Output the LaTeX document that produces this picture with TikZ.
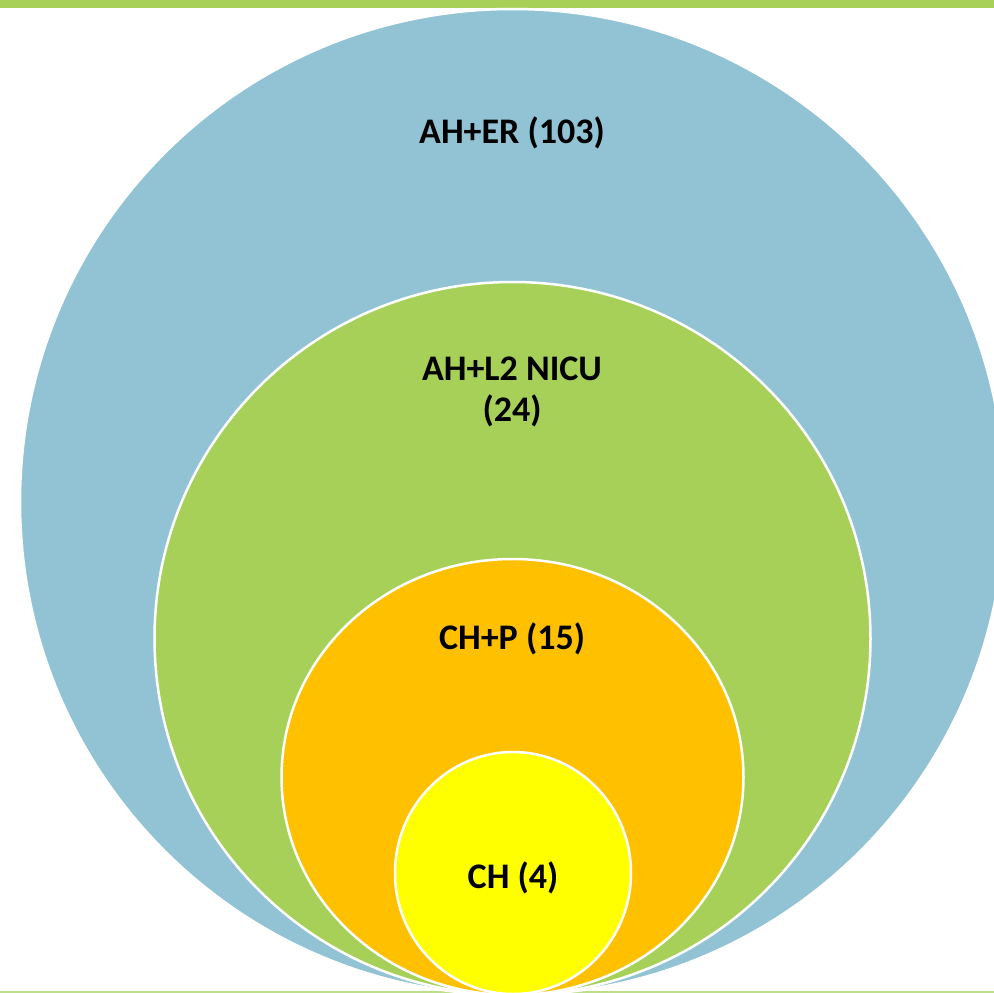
\documentclass[tikz,border=0pt]{standalone}
\usepackage{fontspec}
\setmainfont{Carlito}
\definecolor{cblue}{RGB}{146,195,212}
\definecolor{cgreen}{RGB}{167,208,88}
\definecolor{corange}{RGB}{255,192,0}
\definecolor{cyellow}{RGB}{255,255,0}
\definecolor{cline}{RGB}{190,222,140}
\begin{document}
\begin{tikzpicture}[x=1pt,y=-1pt,
  ring/.style={draw=white,line width=2.5pt},
  lbl/.style={font=\fontsize{36}{44}\selectfont\bfseries,text=black,anchor=base,inner sep=0pt}]
\useasboundingbox (0,0) rectangle (994,993);
\fill[cgreen] (0,0) rectangle (994,7.5);
\fill[cline] (0,990.5) rectangle (994,993);
\filldraw[ring,fill=cblue] (512.5,502) ellipse [x radius=492.5, y radius=493];
\filldraw[ring,fill=cgreen] (512.5,638.5) ellipse [x radius=358, y radius=356.5];
\filldraw[ring,fill=corange] (512.5,777) ellipse [x radius=231, y radius=218];
\filldraw[ring,fill=cyellow] (513,873) ellipse [x radius=118, y radius=121];
\node[lbl] (er) at (512,143) {AH+ER (103)};
\node[lbl] (nicu) at (512,380) {AH+L2 NICU};
\node[lbl] (nicun) at (512,421) {(24)};
\node[lbl] (chp) at (512,649) {CH+P (15)};
\node[lbl] (ch) at (513,888) {CH (4)};
\end{tikzpicture}
\end{document}
